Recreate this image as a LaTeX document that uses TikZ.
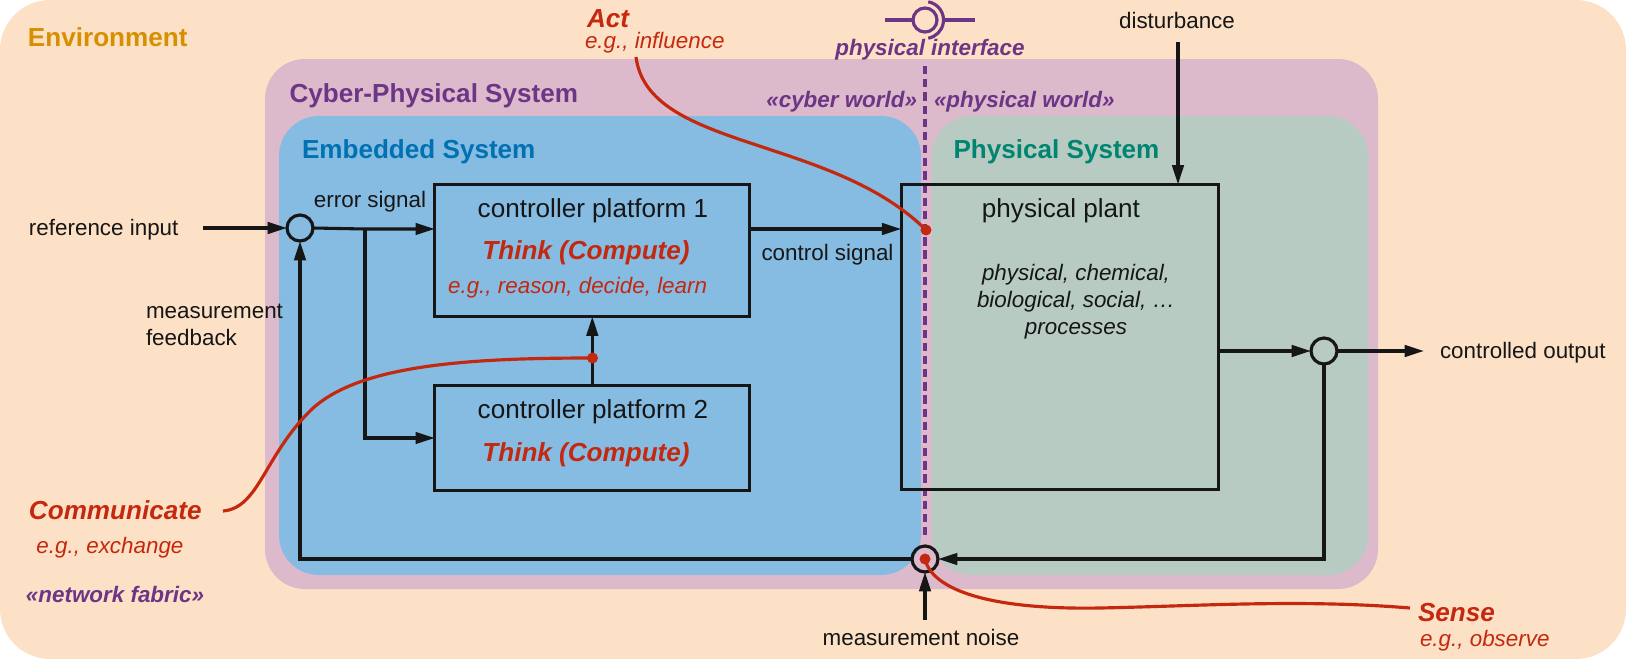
\documentclass[tikz,border=0pt]{standalone}
\usepackage{fontspec}
\setmainfont{Liberation Sans}
\usetikzlibrary{arrows.meta}

\definecolor{envfill}{HTML}{FDE1C6}
\definecolor{cpsfill}{HTML}{DDB9CC}
\definecolor{embfill}{HTML}{86BBE2}
\definecolor{physfill}{HTML}{B7CBC3}
\definecolor{envtext}{HTML}{D58F00}
\definecolor{cpspurple}{HTML}{6C3585}
\definecolor{embtext}{HTML}{0072B2}
\definecolor{phystext}{HTML}{008570}
\definecolor{actred}{HTML}{C4280F}
\definecolor{inkblack}{HTML}{161616}

\newcommand{\bigsize}{\fontsize{14.85}{17.5}\selectfont}
\newcommand{\smallsize}{\fontsize{12.75}{15.4}\selectfont}

\begin{document}
\begin{tikzpicture}[
    x=0.02cm, y=-0.02cm,
    every node/.style={inner sep=0pt, outer sep=0pt, text=inkblack},
    region/.style={rounded corners=0.8cm},
    heading/.style={anchor=west, font=\bigsize\bfseries},
    label/.style={font=\smallsize},
    redsmall/.style={font=\smallsize\itshape, text=actred},
    redbig/.style={font=\bigsize\bfseries\itshape, text=actred},
    purplesmall/.style={font=\smallsize\bfseries\itshape, text=cpspurple},
    block/.style={draw=inkblack, line width=1.8pt, rectangle},
    sumpoint/.style={draw=inkblack, line width=1.8pt, circle, minimum size=0.52cm},
    reddot/.style={fill=actred, circle, minimum size=0.22cm},
    signal/.style={draw=inkblack, line width=1.75pt, -{Triangle[length=11pt,width=6.5pt]}},
    redline/.style={draw=actred, line width=1.8pt},
    purpleline/.style={draw=cpspurple, line width=1.8pt}]

\useasboundingbox (0,0) rectangle (1626,659);

% regions
\fill[envfill, rounded corners=1cm] (0,0) rectangle (1626,659);
\fill[cpsfill, region] (265,59) rectangle (1378,589);
\fill[embfill, region] (279,116) rectangle (921,575);
\fill[physfill, region] (932,116) rectangle (1368,575);

\node[heading, text=envtext] (envTitle) at (28,37) {Environment};
\node[heading, text=cpspurple] (cpsTitle) at (289.5,96) {Cyber-Physical System};
\node[heading, text=embtext] (embTitle) at (302,152) {Embedded System};
\node[heading, text=phystext] (physTitle) at (953.5,152) {Physical System};

% physical interface
\draw[purpleline, dash pattern=on 4.7pt off 2.8pt] (925,66) -- (925,538);
\node[draw=cpspurple, line width=1.8pt, circle, minimum size=0.48cm] (ifaceCircle) at (925,20) {};
\coordinate (ifaceLeft) at (885,20);
\coordinate (ifaceRight) at (975,20);
\draw[purpleline] (ifaceLeft) -- (ifaceCircle);
\draw[purpleline] (ifaceCircle.center) ++(80:0.37cm) arc[start angle=80, end angle=-80, radius=0.37cm];
\draw[purpleline] ([xshift=0.37cm]ifaceCircle.center) -- (ifaceRight);
\node[purplesmall] (ifaceLabel) at (930,50) {physical interface};
\node[purplesmall, anchor=east] (cyberWorld) at (917,101.5) {«cyber world»};
\node[purplesmall, anchor=west] (physWorld) at (934,101.5) {«physical world»};

% blocks
\node[block, minimum width=6.3cm, minimum height=2.64cm] (ctrlA) at (592.3,250.5) {};
\node[block, minimum width=6.3cm, minimum height=2.09cm] (ctrlB) at (592.3,438) {};
\node[block, minimum width=6.35cm, minimum height=6.1cm] (plant) at (1060,337) {};

\node[font=\bigsize] (ctrlAName) at (593,211) {controller platform 1};
\node[redbig] (ctrlAThink) at (586,253) {Think (Compute)};
\node[redsmall] (ctrlAEg) at (577.6,288) {e.g., reason, decide, learn};
\node[font=\bigsize] (ctrlBName) at (593,412) {controller platform 2};
\node[redbig] (ctrlBThink) at (586,455) {Think (Compute)};
\node[font=\bigsize] (plantName) at (1061,211) {physical plant};
\node[font=\smallsize\itshape, align=center] (plantText) at (1076,302) {physical, chemical,\\biological, social, …\\processes};

% summing points
\node[sumpoint] (sumA) at (300,228) {};
\node[sumpoint] (sumB) at (1324,351) {};
\node[sumpoint] (sumC) at (925,559) {};

% signals
\coordinate (refEnd) at (203,228);
\coordinate (branch) at (365,229);
\coordinate (outEnd) at (1424,351);
\coordinate (distEnd) at (1178,42);
\coordinate (noiseEnd) at (925,620);

\draw[signal] (refEnd) -- (sumA);
\draw[signal] (sumA.east) -- (branch) -- (ctrlA.west |- branch);
\draw[signal] (branch) |- (ctrlB.west);
\draw[signal] (ctrlA.east |- branch) -- (plant.west |- branch);
\draw[signal] (ctrlB.north) -- (ctrlA.south);
\draw[signal] (plant.east |- sumB) -- (sumB.west);
\draw[signal] (sumB.east) -- (outEnd);
\draw[signal] (sumB.south) |- (sumC.east);
\draw[signal] (sumC.west) -| (sumA.south);
\draw[signal] (distEnd) -- (distEnd |- plant.north);
\draw[signal] (noiseEnd) -- (sumC.south);

\node[label, anchor=west] (refLabel) at (29,230) {reference input};
\node[label] (errLabel) at (370,202) {error signal};
\node[label] (ctlLabel) at (827.5,255) {control signal};
\node[label, anchor=west, align=left] (fbLabel) at (146,325) {measurement\\feedback};
\node[label, anchor=west] (outLabel) at (1440,353) {controlled output};
\node[label] (distLabel) at (1177,20.7) {disturbance};
\node[label] (noiseLabel) at (921,637) {measurement noise};

% activities
\node[reddot] (actDot) at (926,230) {};
\node[reddot] (commDot) at (592.5,358) {};
\node[reddot] (senseDot) at (925,559) {};
\coordinate (actEnd) at (636,57);
\coordinate (commEnd) at (223,511);
\coordinate (senseEnd) at (1410,608);

\draw[redline] (actEnd) .. controls (648,150) and (830,135) .. (actDot.center);
\draw[redline] (commEnd) .. controls (259,508) and (264,456) .. (311,410)
    .. controls (358,365) and (467,358) .. (commDot.center);
\draw[redline] (senseDot.center) .. controls (932,590) and (990,610) .. (1100,608)
    .. controls (1200,606) and (1300,599) .. (senseEnd);

\node[redbig, anchor=west] (actName) at (587,18.5) {Act};
\node[redsmall, anchor=west] (actEg) at (585,43) {e.g., influence};
\node[redbig, anchor=west] (commName) at (29,510) {Communicate};
\node[redsmall, anchor=west] (commEg) at (36.5,548) {e.g., exchange};
\node[purplesmall, anchor=west] (fabric) at (26,594.5) {«network fabric»};
\node[redbig, anchor=west] (senseName) at (1418,613) {Sense};
\node[redsmall, anchor=west] (senseEg) at (1420,641) {e.g., observe};

\end{tikzpicture}
\end{document}
